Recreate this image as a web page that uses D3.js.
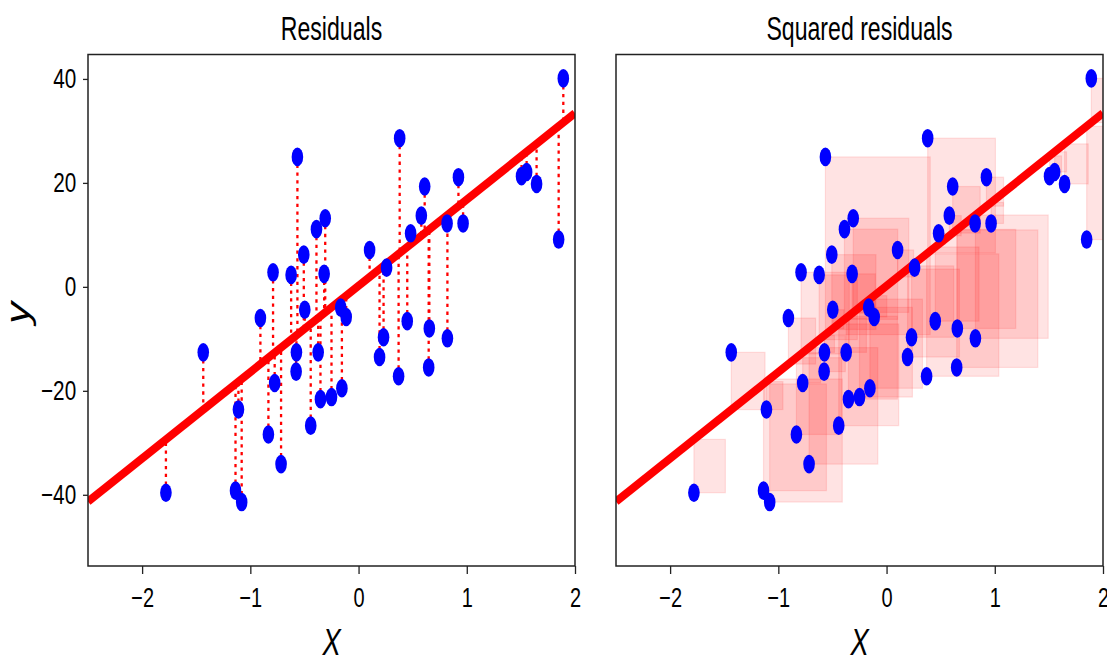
<!DOCTYPE html>
<html lang="en">
<head>
    <meta charset="UTF-8">
    <title>Residuals</title>
    <script src="https://d3js.org/d3.v7.min.js"></script>
    <style>
        body { margin: 0; background: #fff; }
        text { font-family: "Liberation Sans", Arial, sans-serif; fill: #000; }
    </style>
</head>
<body>
    <div id="viz"></div>
    <script>
        // data
        const xValues = [-1.78, -1.435, -1.11, -1.137, -1.08, -0.907, -0.833, -0.79, -0.775, -0.716,
                         -0.623, -0.565, -0.574, -0.577, -0.506, -0.497, -0.442, -0.389, -0.308, -0.318,
                         -0.373, -0.352, -0.25, -0.154, -0.165, -0.114, 0.102, 0.259, 0.231, 0.194,
                         0.37, 0.38, 0.45, 0.481, 0.58, 0.611, 0.654, 0.648, 0.818, 0.821,
                         0.923, 0.966, 1.506, 1.553, 1.645, 1.849, 1.892];
        const yValues = [-39.6, -12.6, -23.6, -39.2, -41.4, -6.0, -28.4, 2.8, -18.5, -34.1,
                         2.3, 25.0, -12.6, -16.3, 6.2, -4.4, -26.7, 11.1, 13.2, 2.5,
                         -12.6, -21.6, -21.2, -19.5, -4.0, -5.8, 7.1, 3.7, -9.7, -13.5,
                         -17.2, 28.6, -6.6, 10.3, 13.7, 19.3, -8.0, -15.5, 12.2, -9.9,
                         21.1, 12.2, 21.3, 22.1, 19.8, 9.1, 40.1];
        // fitted line y = intercept + slope * x
        const intercept = 0.2;
        const slope = 16.6;
        const xTicks = [-2, -1, 0, 1, 2];
        const yTicks = [-40, -20, 0, 20, 40];
        const xDomain = [-2.5, 2];
        const yDomain = [-53.7, 44.7];
        const titles = ["Residuals", "Squared residuals"];

        const points = xValues.map((x, i) => ({ x: x, y: yValues[i], fit: intercept + slope * x }));

        const W = 1107, H = 657;
        const plotTop = 54.5, plotBottom = 566;
        const panels = [
            { left: 88, right: 575, title: titles[0], squares: false, yAxis: true },
            { left: 616, right: 1103, title: titles[1], squares: true, yAxis: false }
        ];
        const squeeze = 0.74;   // the picture is narrow horizontally
        const fmt = d3.format("d");

        const svg = d3.select("#viz")
            .append("svg")
                .attr("width", W)
                .attr("height", H);

        const y = d3.scaleLinear().domain(yDomain).range([plotBottom, plotTop]);

        panels.forEach(function(p, k) {
            const x = d3.scaleLinear().domain(xDomain).range([p.left, p.right]);
            const g = svg.append("g");

            svg.append("clipPath")
                .attr("id", "clip" + k)
              .append("rect")
                .attr("x", p.left).attr("y", plotTop)
                .attr("width", p.right - p.left).attr("height", plotBottom - plotTop);

            const plot = g.append("g").attr("clip-path", `url(#clip${k})`);

            if (p.squares) {
                // squares between each point and the line
                plot.selectAll("rect.sq")
                    .data(points)
                    .join("rect")
                        .attr("class", "sq")
                        .attr("x", d => x(d.x))
                        .attr("y", d => Math.min(y(d.y), y(d.fit)))
                        .attr("width", d => Math.abs(y(d.y) - y(d.fit)) * 0.59)
                        .attr("height", d => Math.abs(y(d.y) - y(d.fit)))
                        .attr("fill", "red")
                        .attr("fill-opacity", 0.11)
                        .attr("stroke", "red")
                        .attr("stroke-opacity", 0.11)
                        .attr("stroke-width", 1.2);
            } else {
                // dotted residual lines
                plot.selectAll("line.res")
                    .data(points)
                    .join("line")
                        .attr("class", "res")
                        .attr("x1", d => x(d.x))
                        .attr("x2", d => x(d.x))
                        .attr("y1", d => y(d.y))
                        .attr("y2", d => y(d.fit))
                        .attr("stroke", "red")
                        .attr("stroke-width", 2.3)
                        .attr("stroke-dasharray", "3.3,4.5");
            }

            // regression line
            plot.append("path")
                .datum(xDomain)
                .attr("fill", "none")
                .attr("stroke", "red")
                .attr("stroke-width", 8)
                .attr("d", d3.line()
                    .x(d => x(d))
                    .y(d => y(intercept + slope * d)));

            // points
            plot.selectAll("ellipse")
                .data(points)
                .join("ellipse")
                    .attr("cx", d => x(d.x))
                    .attr("cy", d => y(d.y))
                    .attr("rx", 5.8)
                    .attr("ry", 9.3)
                    .attr("fill", "blue");

            // frame
            g.append("rect")
                .attr("x", p.left).attr("y", plotTop)
                .attr("width", p.right - p.left).attr("height", plotBottom - plotTop)
                .attr("fill", "none")
                .attr("stroke", "#222")
                .attr("stroke-width", 1.5);

            // x axis
            const xa = g.append("g")
                .attr("transform", `translate(0,${plotBottom})`)
                .call(d3.axisBottom(x).tickValues(xTicks).tickFormat(fmt).tickSize(8).tickPadding(14));
            xa.select(".domain").remove();
            xa.selectAll(".tick line").attr("stroke", "#222").attr("stroke-width", 1.3);
            xa.selectAll(".tick text")
                .attr("font-size", 27)
                .attr("font-family", null)
                .attr("fill", "#111")
                .attr("transform", `scale(${squeeze},1)`);

            if (p.yAxis) {
                const ya = g.append("g")
                    .attr("transform", `translate(${p.left},0)`)
                    .call(d3.axisLeft(y).tickValues(yTicks).tickFormat(fmt).tickSize(5).tickPadding(11));
                ya.select(".domain").remove();
                ya.selectAll(".tick line").attr("stroke", "#222").attr("stroke-width", 1.3);
                ya.selectAll(".tick text")
                    .attr("font-size", 28)
                    .attr("font-family", null)
                    .attr("fill", "#111")
                    .attr("transform", `scale(${squeeze},1)`);

                svg.append("text")
                    .attr("transform", `translate(24,313) scale(${squeeze},1) rotate(-90)`)
                    .attr("text-anchor", "middle")
                    .attr("dy", "0.16em")
                    .attr("font-size", 44)
                    .attr("font-style", "italic")
                    .text("y");
            }

            // title
            svg.append("text")
                .attr("transform", `translate(${(p.left + p.right) / 2},40) scale(0.7,1)`)
                .attr("text-anchor", "middle")
                .attr("font-size", 33)
                .text(p.title);

            // x label
            svg.append("text")
                .attr("transform", `translate(${(p.left + p.right) / 2},655) scale(${squeeze},1)`)
                .attr("text-anchor", "middle")
                .attr("font-size", 37)
                .attr("font-style", "italic")
                .text("X");
        });
    </script>
</body>
</html>
